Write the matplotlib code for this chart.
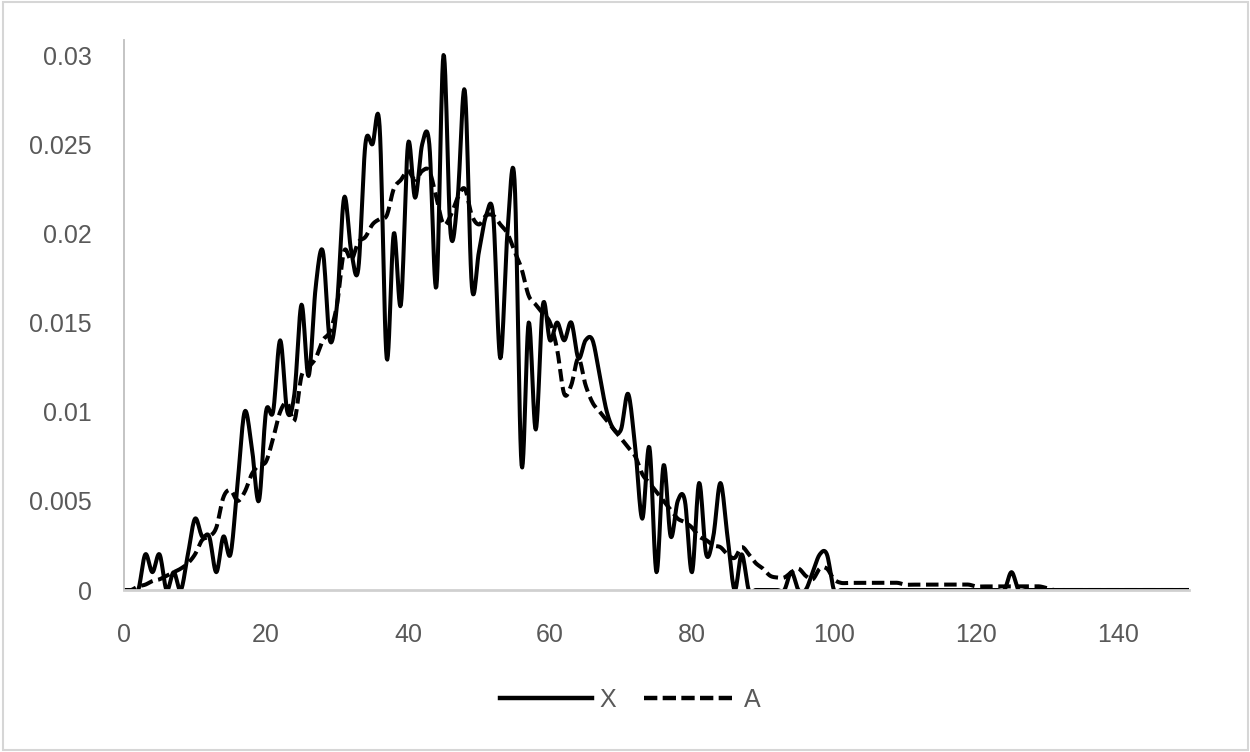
import matplotlib
matplotlib.use('Agg')
import matplotlib.pyplot as plt
from matplotlib.patches import Rectangle
from matplotlib.lines import Line2D
import numpy as np

# x positions 0..150
x_pos = np.arange(151)

# series X (solid)
x_series = [
    0, 0, 0, 0.002, 0.001, 0.002, 0, 0.001, 0, 0.002,
    0.004, 0.003, 0.003, 0.001, 0.003, 0.002, 0.006, 0.010, 0.008, 0.005,
    0.010, 0.010, 0.014, 0.010, 0.011, 0.016, 0.012, 0.017, 0.019, 0.014,
    0.016, 0.022, 0.019, 0.018, 0.025, 0.025, 0.026, 0.013, 0.020, 0.016,
    0.025, 0.022, 0.025, 0.025, 0.017, 0.030, 0.020, 0.022, 0.028, 0.017,
    0.019, 0.021, 0.021, 0.013, 0.020, 0.023, 0.007, 0.015, 0.009, 0.016,
    0.014, 0.015, 0.014, 0.015, 0.013, 0.014, 0.014, 0.012, 0.010, 0.009,
    0.009, 0.011, 0.008, 0.004, 0.008, 0.001, 0.007, 0.003, 0.005, 0.005,
    0.001, 0.006, 0.002, 0.003, 0.006, 0.003, 0, 0.002, 0, 0,
    0, 0, 0, 0, 0.001, 0, 0, 0.001, 0.002, 0.002,
    0, 0, 0, 0, 0, 0, 0, 0, 0, 0,
    0, 0, 0, 0, 0, 0, 0, 0, 0, 0,
    0, 0, 0, 0, 0, 0.001, 0, 0, 0, 0,
    0, 0, 0, 0, 0, 0, 0, 0, 0, 0,
    0, 0, 0, 0, 0, 0, 0, 0, 0, 0,
    0,
]

# series A (dashed)
a_series = [
    0, 0, 0.0002, 0.0003, 0.0005, 0.0006, 0.0008, 0.001, 0.0012, 0.0015,
    0.002, 0.0028, 0.003, 0.0035, 0.0052, 0.0056, 0.005, 0.0055, 0.0065, 0.007,
    0.0072, 0.0085, 0.010, 0.0105, 0.0095, 0.012, 0.0125, 0.013, 0.014, 0.0145,
    0.016, 0.019, 0.0185, 0.0195, 0.0198, 0.0205, 0.0208, 0.021, 0.0225, 0.023,
    0.0235, 0.023, 0.0235, 0.0235, 0.022, 0.0205, 0.021, 0.022, 0.0225, 0.021,
    0.0205, 0.021, 0.021, 0.0205, 0.020, 0.019, 0.018, 0.0165, 0.016, 0.0155,
    0.015, 0.0135, 0.011, 0.0115, 0.013, 0.0115, 0.0105, 0.010, 0.0095, 0.009,
    0.0085, 0.008, 0.0075, 0.0065, 0.006, 0.0055, 0.005, 0.0045, 0.004, 0.0038,
    0.0035, 0.003, 0.0028, 0.0025, 0.0024, 0.002, 0.0018, 0.0024, 0.002, 0.0015,
    0.0012, 0.0008, 0.0007, 0.0007, 0.001, 0.0012, 0.0008, 0.0006, 0.0012, 0.0012,
    0.0006, 0.0004, 0.0004, 0.0004, 0.0004, 0.0004, 0.0004, 0.0004, 0.0004, 0.0004,
    0.0003, 0.0003, 0.0003, 0.0003, 0.0003, 0.0003, 0.0003, 0.0003, 0.0003, 0.0003,
    0.0002, 0.0002, 0.0002, 0.0002, 0.0002, 0.0002, 0.0002, 0.0002, 0.0002, 0.0002,
    0.0001, 0, 0, 0, 0, 0, 0, 0, 0, 0,
    0, 0, 0, 0, 0, 0, 0, 0, 0, 0,
    0,
]

x_ticks = [0, 20, 40, 60, 80, 100, 120, 140]
y_ticks = [0, 0.005, 0.01, 0.015, 0.02, 0.025, 0.03]
y_tick_labels = ['0', '0.005', '0.01', '0.015', '0.02', '0.025', '0.03']


def smooth(xs, ys, n=12):
    # Excel-like smoothed line: Catmull-Rom segments as cubic Bezier curves
    pts = np.column_stack([xs, ys]).astype(float)
    p = np.vstack([pts[0], pts, pts[-1]])
    t = np.linspace(0, 1, n, endpoint=False)[:, None]
    out = []
    for i in range(1, len(p) - 2):
        p0, p1, p2, p3 = p[i - 1], p[i], p[i + 1], p[i + 2]
        c1 = p1 + (p2 - p0) / 6
        c2 = p2 - (p3 - p1) / 6
        seg = ((1 - t) ** 3) * p1 + 3 * (1 - t) ** 2 * t * c1 + 3 * (1 - t) * t ** 2 * c2 + t ** 3 * p2
        out.append(seg)
    out.append(pts[-1:])
    curve = np.vstack(out)
    return curve[:, 0], curve[:, 1]


font = ['Liberation Sans Narrow', 'DejaVu Sans Condensed', 'Liberation Sans', 'DejaVu Sans']
plt.rcParams['font.family'] = font

fig = plt.figure(figsize=(12.5, 7.52), dpi=100)
ax = fig.add_axes([124 / 1250, 1 - 590 / 752, (1189 - 124) / 1250, 550 / 752])

sx, sy = smooth(x_pos, x_series)
ax.plot(sx, sy, color='black', linewidth=2.9, solid_capstyle='butt', label='X')
sx, sy = smooth(x_pos, a_series)
ax.plot(sx, sy, color='black', linewidth=2.9, dashes=(3.1, 1.4), label='A')

ax.set_xlim(0, 150)
ax.set_ylim(0, 0.03 + 15 / 17.8 * 0.001)
ax.set_xticks(x_ticks)
ax.set_yticks(y_ticks)
ax.set_yticklabels(y_tick_labels)
ax.tick_params(length=0, labelsize=18, labelcolor='#595959')
ax.tick_params(axis='x', pad=24)
ax.tick_params(axis='y', pad=23)

for side in ['top', 'right']:
    ax.spines[side].set_visible(False)
ax.spines['left'].set_color('#bfbfbf')
ax.spines['left'].set_linewidth(1.3)
ax.spines['bottom'].set_color('#d0d0d0')
ax.spines['bottom'].set_linewidth(2)

handles = [Line2D([], [], color='black', linewidth=3.2),
           Line2D([], [], color='black', linewidth=3.2, dashes=(3.0, 1.2))]
leg = fig.legend(handles, ['X', 'A'], loc='center', bbox_to_anchor=(630 / 1250, 1 - 700 / 752),
                 ncol=2, frameon=False, fontsize=18, handlelength=3.7, handletextpad=0.3,
                 columnspacing=1.1, labelcolor='#595959')

# light chart border
fig.patches.append(Rectangle((0.002, 0.003), 0.996, 0.994, transform=fig.transFigure,
                             fill=False, edgecolor='#d6d6d6', linewidth=1.5))

fig.savefig('out.png', dpi=100)
plt.close(fig)
